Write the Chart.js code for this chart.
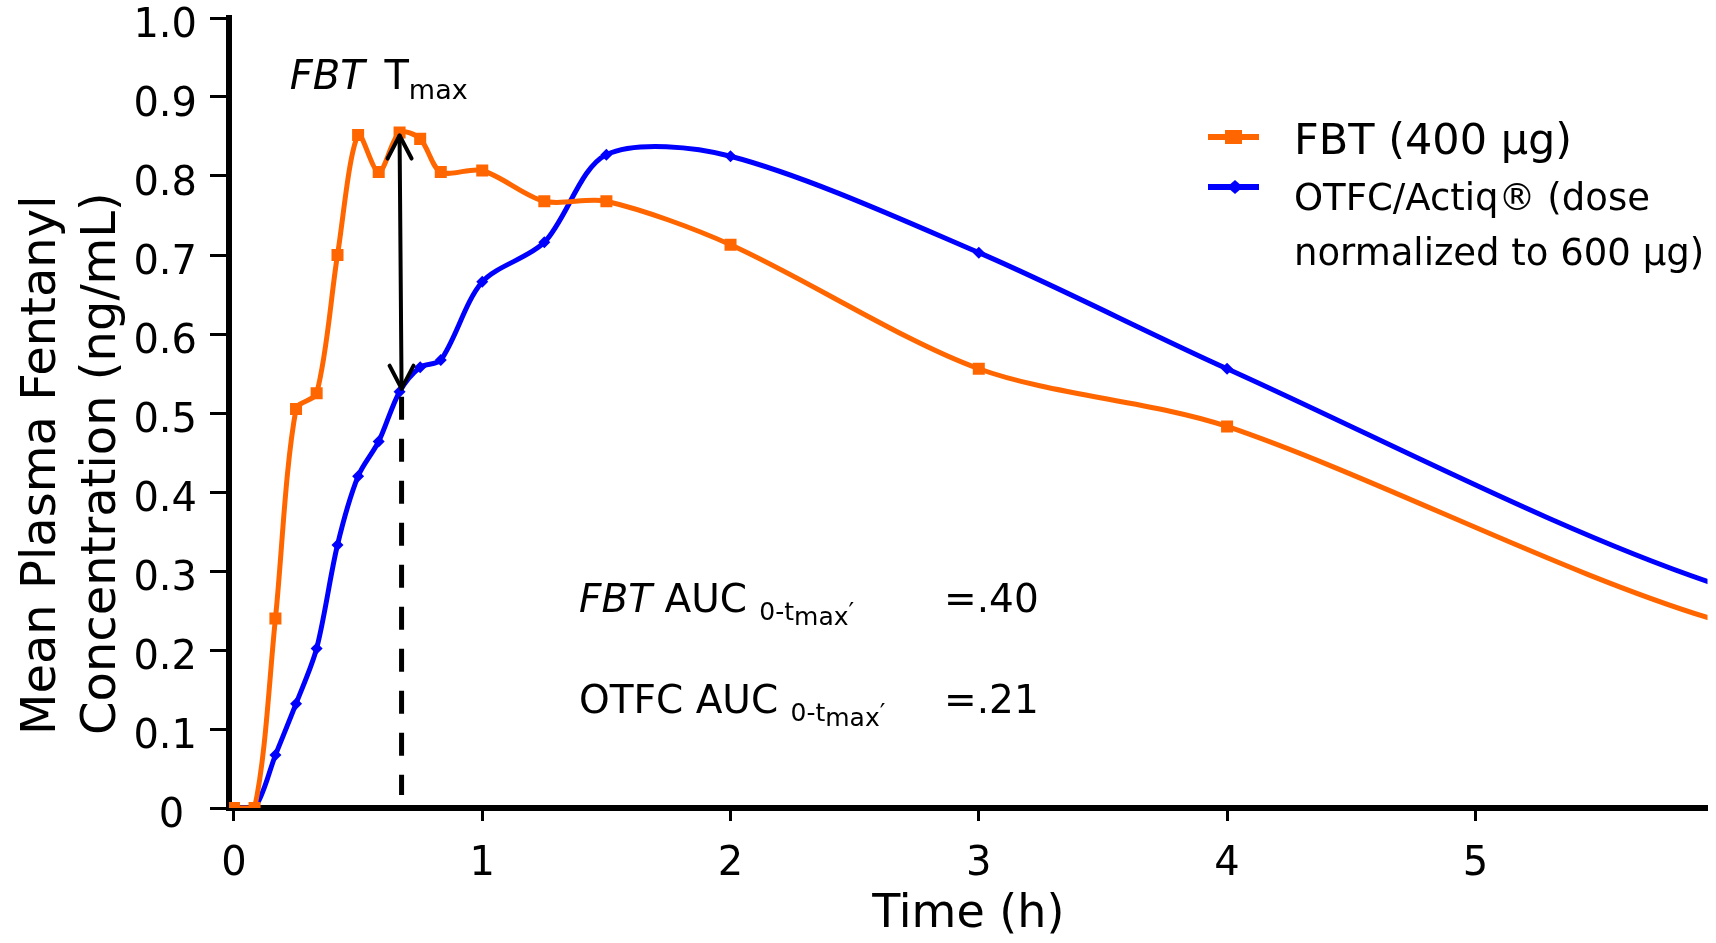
<!DOCTYPE html>
<html>
<head>
<meta charset="utf-8">
<title>Mean plasma fentanyl concentration</title>
<script src="https://cdn.jsdelivr.net/npm/chart.js@4.4.1/dist/chart.umd.min.js"></script>
<style>
  html, body { margin: 0; padding: 0; background: #fff; }
  #wrap { position: relative; width: 1716px; height: 943px; }
</style>
</head>
<body>
<div id="wrap"><canvas id="pkChart"></canvas></div>
<script>
// sampling times (h)
const sampleTimes = [0, 0.083, 0.167, 0.25, 0.333, 0.417, 0.5, 0.583, 0.667, 0.75, 0.833, 1, 1.25, 1.5, 2, 3, 4, 6, 8];
// mean plasma fentanyl (ng/mL)
const fbtConc  = [0, 0, 0.24, 0.505, 0.525, 0.70, 0.852, 0.805, 0.855, 0.847, 0.805, 0.807, 0.768, 0.768, 0.713, 0.556, 0.483, 0.235, 0.12];
const otfcConc = [0, 0, 0.067, 0.132, 0.202, 0.333, 0.42, 0.464, 0.527, 0.558, 0.567, 0.666, 0.716, 0.827, 0.825, 0.703, 0.556, 0.28, 0.15];

const xTicks = [0, 1, 2, 3, 4, 5];
const xTickLabels = ['0', '1', '2', '3', '4', '5'];
const yTicks = [0, 0.1, 0.2, 0.3, 0.4, 0.5, 0.6, 0.7, 0.8, 0.9, 1.0];
const yTickLabels = ['0 ', '0.1', '0.2', '0.3', '0.4', '0.5', '0.6', '0.7', '0.8', '0.9', '1.0'];

const seriesNames = ['FBT (400 µg)', 'OTFC/Actiq® (dose normalized to 600 µg)'];
const tmaxIndex = 8;          // FBT Tmax sample
const aucValues = ['.40', '.21'];

const FONT = '"DejaVu Sans", Verdana, sans-serif';
const ORANGE = '#ff6600';
const BLUE = '#0000ff';

Chart.defaults.font.family = FONT;
Chart.defaults.color = '#000';

function points(ys) {
  return sampleTimes.map((t, i) => ({ x: t, y: ys[i] }));
}

// draws a run of differently styled text pieces left to right
// each part: [text, font, baseline shift, extra gap before]
function textRun(ctx, x, y, parts) {
  let cx = x;
  parts.forEach(([text, font, dy, gap]) => {
    cx += gap || 0;
    ctx.font = font;
    ctx.fillText(text, cx, y + (dy || 0));
    cx += ctx.measureText(text).width;
  });
}

function arrowHead(ctx, x, y, dir) {
  ctx.beginPath();
  ctx.moveTo(x - 12, y + dir * 23);
  ctx.lineTo(x, y);
  ctx.lineTo(x + 12, y + dir * 23);
  ctx.stroke();
}

const pkNotes = {
  id: 'pkNotes',
  afterDatasetsDraw(chart) {
    const { ctx, scales: { x, y } } = chart;
    const tx = x.getPixelForValue(sampleTimes[tmaxIndex]);
    const yTop = y.getPixelForValue(fbtConc[tmaxIndex]);
    const yBot = y.getPixelForValue(otfcConc[tmaxIndex]);

    ctx.save();
    ctx.strokeStyle = '#000';
    ctx.fillStyle = '#000';
    ctx.lineCap = 'butt';

    // dashed drop line at Tmax
    ctx.lineWidth = 5;
    ctx.setLineDash([23, 19]);
    ctx.beginPath();
    ctx.moveTo(tx + 2, yBot + 5);
    ctx.lineTo(tx + 2, y.getPixelForValue(0) - 13);
    ctx.stroke();
    ctx.setLineDash([]);

    // double headed arrow between the two curves
    ctx.lineWidth = 4;
    ctx.lineCap = 'round';
    ctx.lineJoin = 'round';
    ctx.beginPath();
    ctx.moveTo(tx, yTop + 3);
    ctx.lineTo(tx + 2, yBot - 3);
    ctx.stroke();
    arrowHead(ctx, tx, yTop + 3, 1);
    arrowHead(ctx, tx + 2, yBot - 3, -1);

    ctx.textAlign = 'left';
    ctx.textBaseline = 'alphabetic';

    // FBT Tmax label
    textRun(ctx, x.getPixelForValue(0.225), y.getPixelForValue(0.91), [
      ['FBT', 'italic 40px ' + FONT],
      [' T', '40px ' + FONT, 0, 7],
      ['max', '27px ' + FONT, 10]
    ]);

    // AUC notes
    const ax = x.getPixelForValue(1.39);
    const ex = x.getPixelForValue(2.86);
    const sub = [
      ['0-t', '25px ' + FONT, 8],
      ['max', '25px ' + FONT, 13],
      ['′', '25px ' + FONT, 8]
    ];
    const y1 = y.getPixelForValue(0.248);
    const y2 = y.getPixelForValue(0.12);
    textRun(ctx, ax, y1, [['FBT', 'italic 39px ' + FONT], [' AUC ', '39px ' + FONT]].concat(sub));
    textRun(ctx, ax, y2, [['OTFC AUC ', '39px ' + FONT]].concat(sub));
    ctx.font = '39px ' + FONT;
    ctx.fillText('=' + aucValues[0], ex, y1);
    ctx.fillText('=' + aucValues[1], ex, y2);

    // legend
    const lx = 1208, tx0 = 1294;
    ctx.lineCap = 'butt';
    ctx.lineWidth = 6;
    ctx.strokeStyle = ORANGE;
    ctx.beginPath(); ctx.moveTo(lx, 137); ctx.lineTo(lx + 51, 137); ctx.stroke();
    ctx.fillStyle = ORANGE;
    ctx.fillRect(lx + 17, 130, 17, 14);
    ctx.strokeStyle = BLUE;
    ctx.beginPath(); ctx.moveTo(lx, 187); ctx.lineTo(lx + 51, 187); ctx.stroke();
    ctx.fillStyle = BLUE;
    ctx.beginPath();
    ctx.moveTo(lx + 19, 187); ctx.lineTo(lx + 27, 180); ctx.lineTo(lx + 35, 187); ctx.lineTo(lx + 27, 194);
    ctx.closePath(); ctx.fill();

    ctx.fillStyle = '#000';
    ctx.font = '43px ' + FONT;
    ctx.fillText(seriesNames[0], tx0, 154);
    ctx.font = '37px ' + FONT;
    ctx.fillText('OTFC/Actiq® (dose', tx0, 210);
    ctx.fillText('normalized to 600 µg)', tx0, 265);

    // y axis title, two lines, bottom aligned
    ctx.translate(55, 735);
    ctx.rotate(-Math.PI / 2);
    ctx.font = '48px ' + FONT;
    ctx.fillText('Mean Plasma Fentanyl', 0, 0);
    ctx.fillText('Concentration (ng/mL)', 0, 60);
    ctx.restore();
  }
};

new Chart(document.getElementById('pkChart'), {
  type: 'line',
  data: {
    datasets: [
      {
        label: seriesNames[0],
        data: points(fbtConc),
        borderColor: ORANGE,
        backgroundColor: ORANGE,
        borderWidth: 5,
        pointStyle: 'rect',
        pointRadius: 8.5,
        pointBorderWidth: 0,
        tension: 0.3
      },
      {
        label: seriesNames[1],
        data: points(otfcConc),
        borderColor: BLUE,
        backgroundColor: BLUE,
        borderWidth: 5,
        pointStyle: 'rectRot',
        pointRadius: 6,
        pointBorderWidth: 0,
        tension: 0.3
      }
    ]
  },
  options: {
    responsive: true,
    maintainAspectRatio: false,
    animation: false,
    devicePixelRatio: 1,
    layout: { padding: { top: 18, right: 0, bottom: 0, left: 0 } },
    plugins: {
      legend: { display: false },
      tooltip: { enabled: false }
    },
    scales: {
      x: {
        type: 'linear',
        min: -0.02,
        max: 5.935,
        afterBuildTicks: s => { s.ticks = xTicks.map(v => ({ value: v })); },
        ticks: {
          callback: (v, i) => xTickLabels[i],
          font: { size: 40 },
          padding: 20,
          maxRotation: 0,
          autoSkip: false
        },
        grid: { drawOnChartArea: false, drawTicks: true, tickLength: 13, tickWidth: 3, color: '#000' },
        border: { display: true, width: 6, color: '#000' },
        title: { display: true, text: 'Time (h)', font: { size: 46 }, padding: { top: 0, bottom: 0 } },
        afterFit: s => { s.height = 135; s.paddingLeft = 0; s.paddingRight = 0; }
      },
      y: {
        min: 0,
        max: 1,
        afterBuildTicks: s => { s.ticks = yTicks.map(v => ({ value: v })); },
        ticks: {
          callback: (v, i) => yTickLabels[i],
          font: { size: 40 },
          padding: 13,
          labelOffset: 9,
          autoSkip: false
        },
        grid: { drawOnChartArea: false, drawTicks: true, tickLength: 19, tickWidth: 3, color: '#000' },
        border: { display: true, width: 6, color: '#000' },
        afterFit: s => { s.width = 229; s.paddingTop = 0; s.paddingBottom = 0; }
      }
    }
  },
  plugins: [pkNotes]
});
</script>
</body>
</html>
